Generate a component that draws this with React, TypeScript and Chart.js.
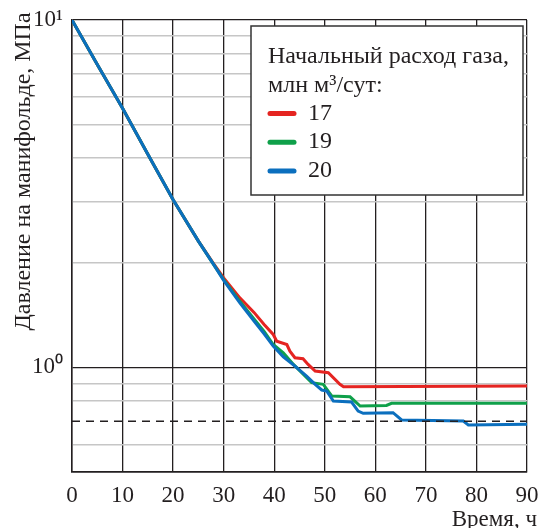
import React, { useEffect, useRef } from 'react';
import { Chart, registerables } from 'chart.js';

Chart.register(...registerables);

// ---------- data ----------
const timeTicks = [0, 10, 20, 30, 40, 50, 60, 70, 80, 90];
const pressureGridValues = [0.5, 0.6, 0.7, 0.8, 0.9, 1, 2, 3, 4, 5, 6, 7, 8, 9, 10];
const thresholdPressure = 0.7;

const seriesLabels = ['17', '19', '20'];
const seriesColors = ['#e52421', '#0fa04a', '#0b6fbe'];

const timeRed = [0, 5, 10, 15, 20, 25, 28, 30, 33.2, 36, 38, 39.8, 40.5, 42.5, 43.1, 44.1, 45.7, 46.7, 48.1, 50.7, 53.0, 53.7, 90];
const pressureRed = [10, 7.45, 5.57, 4.11, 3.04, 2.31, 1.99, 1.81, 1.586, 1.44, 1.33, 1.244, 1.19, 1.164, 1.114, 1.066, 1.059, 1.02, 0.976, 0.966, 0.894, 0.88, 0.884];

const timeGreen = [0, 5, 10, 15, 20, 25, 28, 30, 33.2, 36, 38, 39.8, 41.8, 43.8, 44.4, 47.4, 49.7, 51.4, 55.0, 57.0, 62.2, 63.2, 90];
const pressureGreen = [10, 7.45, 5.57, 4.11, 3.04, 2.31, 1.98, 1.79, 1.55, 1.38, 1.27, 1.164, 1.102, 1.02, 1.0, 0.904, 0.894, 0.827, 0.823, 0.774, 0.777, 0.788, 0.788];

const timeBlue = [0, 5, 10, 15, 20, 25, 28, 30, 33.2, 36, 38, 39.8, 41.8, 44.1, 46.4, 48.1, 49.4, 50.4, 51.7, 55.3, 56.6, 57.6, 63.5, 65.2, 77.4, 78.4, 90];
const pressureBlue = [10, 7.45, 5.57, 4.11, 3.04, 2.31, 1.98, 1.78, 1.535, 1.36, 1.25, 1.152, 1.073, 1.009, 0.944, 0.894, 0.861, 0.855, 0.8, 0.795, 0.749, 0.738, 0.741, 0.706, 0.701, 0.683, 0.686];

const legendTitleLines = ['Начальный расход газа,', 'млн м³/сут:'];
const yAxisTitle = 'Давление на манифольде, МПа';
const xAxisTitle = 'Время, ч';

const FONT = "'Liberation Serif', 'Times New Roman', serif";
const INK = '#231f20';

const toPoints = (xs: number[], ys: number[]) => xs.map((x, i) => ({ x, y: ys[i] }));

const overlayPlugin = {
  id: 'overlay',
  afterDraw(chart: any) {
    const ctx = chart.ctx as CanvasRenderingContext2D;
    ctx.save();
    // legend box
    ctx.fillStyle = '#ffffff';
    ctx.fillRect(251, 26, 272, 169);
    ctx.strokeStyle = '#333333';
    ctx.lineWidth = 1.5;
    ctx.strokeRect(251, 26, 272, 169);
    ctx.fillStyle = INK;
    ctx.font = `24px ${FONT}`;
    ctx.textAlign = 'left';
    ctx.textBaseline = 'alphabetic';
    ctx.fillText(legendTitleLines[0], 268, 63);
    ctx.fillText(legendTitleLines[1], 268, 92);
    const ds = chart.data.datasets.filter((d: any) => seriesLabels.includes(d.label));
    ds.forEach((d: any, i: number) => {
      const cy = 113.5 + i * 28.7;
      ctx.strokeStyle = d.borderColor;
      ctx.lineWidth = 5;
      ctx.lineCap = 'round';
      ctx.beginPath();
      ctx.moveTo(270, cy);
      ctx.lineTo(294, cy);
      ctx.stroke();
      ctx.fillStyle = INK;
      ctx.fillText(d.label, 308, cy + 6);
    });
    // axis titles
    ctx.fillStyle = INK;
    ctx.font = `23px ${FONT}`;
    ctx.textAlign = 'right';
    ctx.fillText(xAxisTitle, 537, 526);
    ctx.save();
    ctx.translate(30, 171.5);
    ctx.rotate(-Math.PI / 2);
    ctx.font = `24px ${FONT}`;
    ctx.textAlign = 'center';
    ctx.fillText(yAxisTitle, 0, 0);
    ctx.restore();
    ctx.restore();
  },
};

export default function App() {
  const ref = useRef<HTMLCanvasElement | null>(null);
  useEffect(() => {
    if (!ref.current) return;
    const chart = new Chart(ref.current, {
      type: 'line',
      data: {
        datasets: [
          { label: seriesLabels[0], data: toPoints(timeRed, pressureRed), borderColor: seriesColors[0], borderWidth: 3, pointRadius: 0, tension: 0, order: 3 },
          { label: seriesLabels[1], data: toPoints(timeGreen, pressureGreen), borderColor: seriesColors[1], borderWidth: 3, pointRadius: 0, tension: 0, order: 2 },
          { label: seriesLabels[2], data: toPoints(timeBlue, pressureBlue), borderColor: seriesColors[2], borderWidth: 3, pointRadius: 0, tension: 0, order: 1 },
          { label: 'threshold', data: [{ x: timeTicks[0], y: thresholdPressure }, { x: timeTicks[timeTicks.length - 1], y: thresholdPressure }], borderColor: INK, borderWidth: 1.3, borderDash: [8, 6], pointRadius: 0, order: 0 },
        ],
      },
      options: {
        responsive: false,
        animation: false,
        devicePixelRatio: 1,
        layout: { padding: { left: 0, top: 20, right: 14, bottom: 0 } },
        plugins: { legend: { display: false }, tooltip: { enabled: false } },
        scales: {
          x: {
            type: 'linear',
            min: 0,
            max: 90,
            afterBuildTicks: (s: any) => { s.ticks = timeTicks.map((v) => ({ value: v })); },
            afterFit: (s: any) => { s.height = 56; s.paddingLeft = 0; s.paddingRight = 0; },
            grid: { color: INK, lineWidth: 1.3, drawTicks: false },
            border: { color: INK, width: 1.5 },
            ticks: { color: INK, font: { family: FONT, size: 23 }, padding: 10, maxRotation: 0, autoSkip: false },
          },
          y: {
            type: 'logarithmic',
            min: 0.5,
            max: 10,
            afterBuildTicks: (s: any) => { s.ticks = pressureGridValues.map((v) => ({ value: v })); },
            afterFit: (s: any) => { s.width = 72; s.paddingTop = 0; s.paddingBottom = 0; },
            grid: {
              drawTicks: false,
              color: (c: any) => {
                const v = c.tick?.value;
                if (v === 1 || v === 10 || v === 0.5) return INK;
                if (v === thresholdPressure) return 'rgba(0,0,0,0)';
                return '#c6c6c6';
              },
              lineWidth: (c: any) => {
                const v = c.tick?.value;
                return v === 1 || v === 10 ? 1.3 : 1.6;
              },
            },
            border: { color: INK, width: 1.5 },
            ticks: {
              color: INK,
              font: { family: FONT, size: 23 },
              padding: 9,
              autoSkip: false,
              callback: (v: any) => (v === 10 ? '10¹' : v === 1 ? '10⁰' : ''),
            },
          },
        },
      },
      plugins: [overlayPlugin],
    } as any);
    return () => chart.destroy();
  }, []);
  return (
    <div style={{ position: 'absolute', left: 0, top: 0, width: 541, height: 528 }}>
      <canvas ref={ref} width={541} height={528} />
    </div>
  );
}
